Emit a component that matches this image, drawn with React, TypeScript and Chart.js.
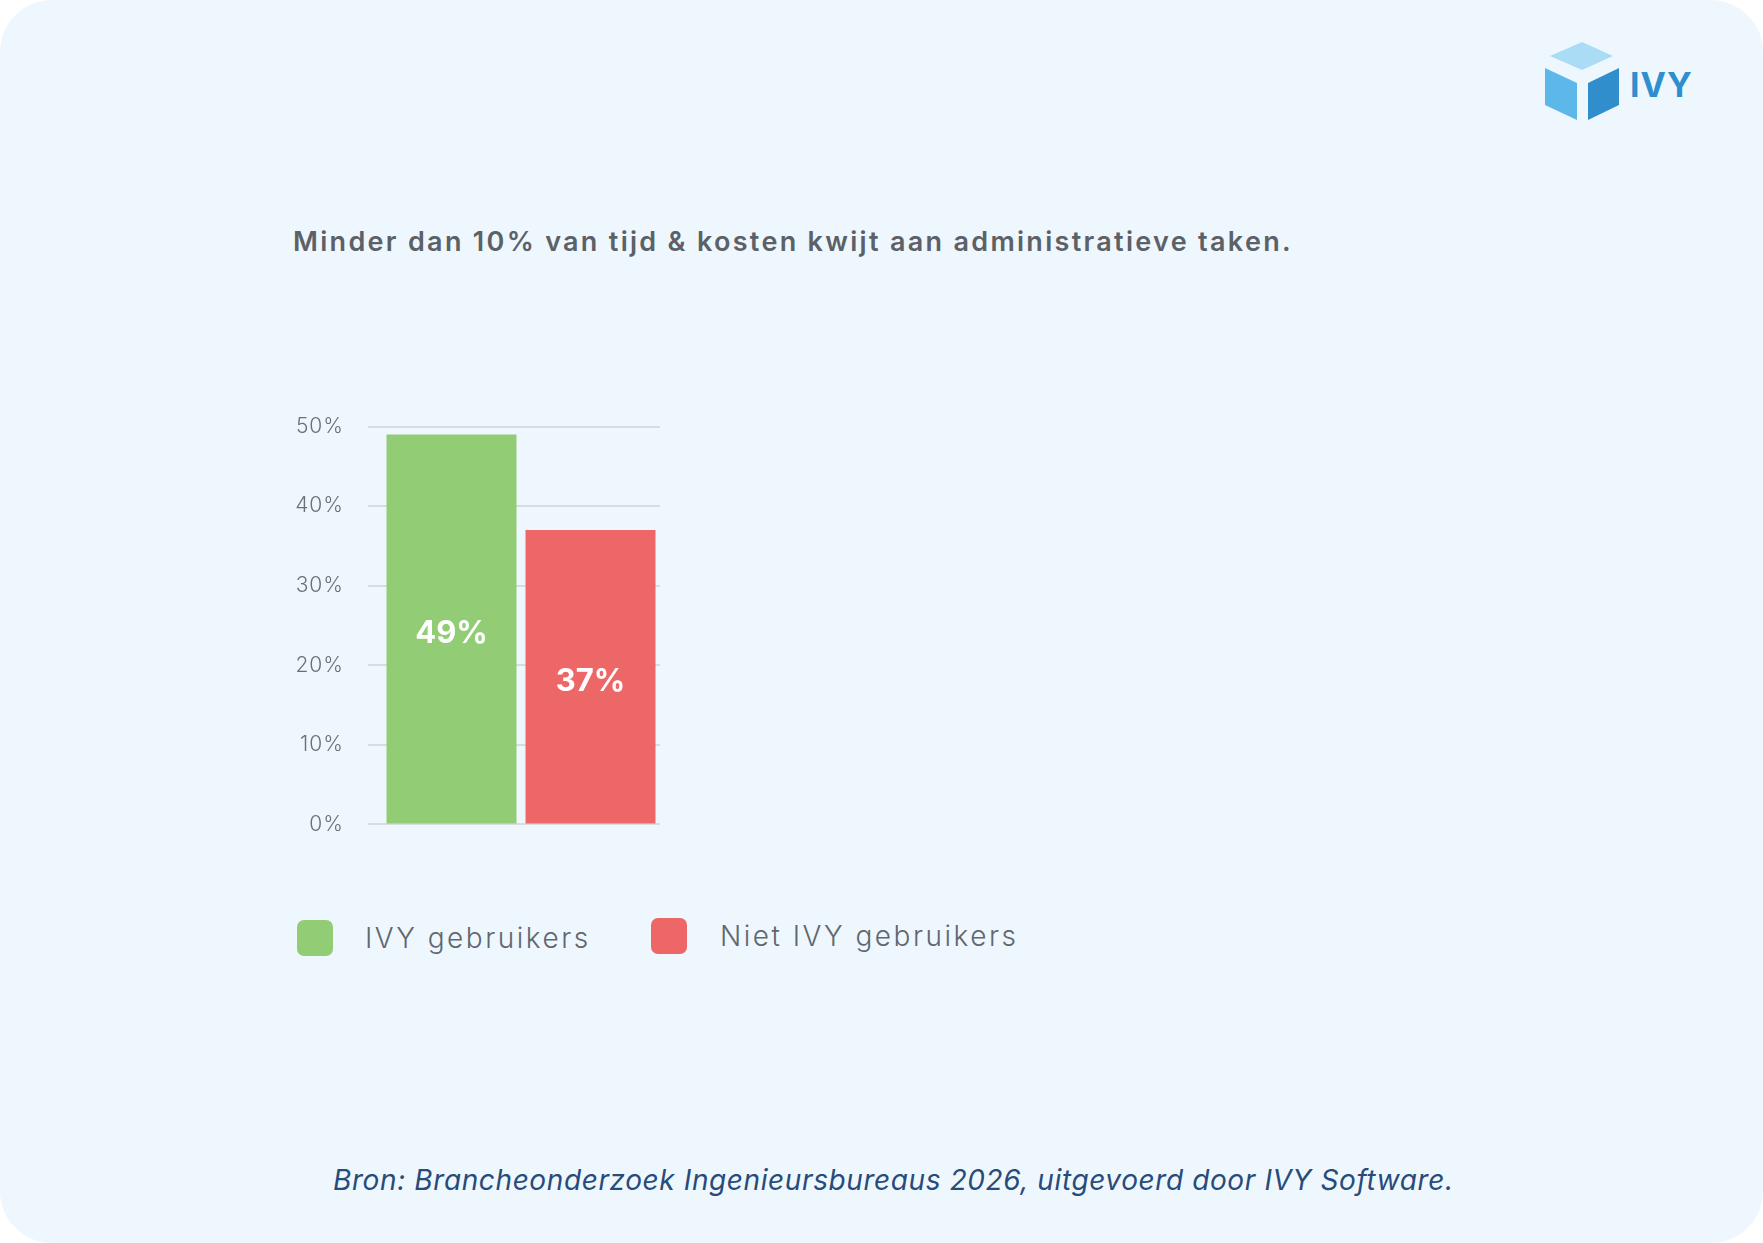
import { useEffect, useRef } from 'react';
import { Chart, registerables } from 'chart.js';

Chart.register(...registerables);

// data
const categories = [''];
const seriesLabels = ['IVY gebruikers', 'Niet IVY gebruikers'];
const seriesValues = [49, 37];
const seriesColors = ['#92cc74', '#ed6767'];
const yTicks = [0, 10, 20, 30, 40, 50];

const FONT = 'Inter, "Noto Sans", sans-serif';

const spacingPlugin = {
  id: 'spacing',
  beforeLayout(chart: Chart) { (chart.ctx as any).letterSpacing = '1px'; },
  beforeDraw(chart: Chart) { (chart.ctx as any).letterSpacing = '1px'; },
};

const valueLabels = {
  id: 'valueLabels',
  afterDatasetsDraw(chart: Chart) {
    const ctx = chart.ctx;
    ctx.save();
    (ctx as any).letterSpacing = '0px';
    ctx.fillStyle = '#ffffff';
    ctx.font = `700 31px ${FONT}`;
    ctx.textAlign = 'center';
    ctx.textBaseline = 'middle';
    chart.data.datasets.forEach((ds, i) => {
      const meta = chart.getDatasetMeta(i);
      meta.data.forEach((bar: any, j) => {
        const v = ds.data[j] as number;
        const { x, y, base } = bar.getProps(['x', 'y', 'base'], true);
        ctx.fillText(`${v}%`, x, (y + base) / 2 + 5);
      });
    });
    ctx.restore();
  },
};

export default function App() {
  const canvasRef = useRef<HTMLCanvasElement>(null);
  const chartRef = useRef<Chart | null>(null);

  useEffect(() => {
    document.body.style.margin = '0';
    document.body.style.background = '#ffffff';
    if (!canvasRef.current) return;
    if (chartRef.current) chartRef.current.destroy();

    chartRef.current = new Chart(canvasRef.current, {
      type: 'bar',
      data: {
        labels: categories,
        datasets: seriesLabels.map((label, i) => ({
          label,
          data: [seriesValues[i]],
          backgroundColor: seriesColors[i],
          borderWidth: 0,
          categoryPercentage: 1,
          barPercentage: 0.935,
        })),
      },
      options: {
        responsive: false,
        animation: false,
        layout: { padding: { left: 10, right: 20, top: 30, bottom: 20 } },
        plugins: {
          legend: { display: false },
          tooltip: { enabled: false },
        },
        scales: {
          x: { display: false },
          y: {
            min: 0,
            max: 50,
            afterBuildTicks: (scale: any) => {
              scale.ticks = yTicks.map(v => ({ value: v }));
            },
            afterFit: (scale: any) => { scale.width = 92; },
            border: { display: false },
            grid: { color: '#d9dcdf', lineWidth: 2, tickLength: 14, drawTicks: true },
            ticks: {
              padding: 24,
              color: '#6b7076',
              font: { family: FONT, size: 21, weight: 300 },
              callback: (v: any) => `${v}%`,
            },
          },
        },
      },
      plugins: [spacingPlugin, valueLabels],
    });

    return () => { chartRef.current?.destroy(); };
  }, []);

  return (
    <div style={{ position: 'relative', width: 1763, height: 1243, background: '#eff7fe', borderRadius: 52, overflow: 'hidden', fontFamily: FONT }}>
      <svg style={{ position: 'absolute', left: 1540, top: 36 }} width="84" height="90" viewBox="1540 36 84 90">
        <polygon points="1550,56 1582,42 1613,56 1582,70" fill="#aadcf5" />
        <polygon points="1545,68 1577,83 1577,120 1545,105" fill="#5cb8e8" />
        <polygon points="1588,83 1619,68 1619,105 1588,120" fill="#2f8ecb" />
      </svg>
      <div style={{ position: 'absolute', left: 1630, top: 64, fontSize: 34, fontWeight: 700, color: '#2f8fce', letterSpacing: 1 }}>IVY</div>

      <div style={{ position: 'absolute', left: 293, top: 225, fontSize: 27, fontWeight: 600, color: '#5b6167', letterSpacing: 2.3, whiteSpace: 'nowrap' }}>
        Minder dan 10% van tijd &amp; kosten kwijt aan administratieve taken.
      </div>

      <canvas ref={canvasRef} width={400} height={471} style={{ position: 'absolute', left: 280, top: 390, width: 400, height: 471 }} />

      {seriesLabels.map((label, i) => (
        <div key={label} style={{ position: 'absolute', left: i === 0 ? 297 : 651, top: i === 0 ? 920 : 918, display: 'flex', alignItems: 'center' }}>
          <span style={{ width: 36, height: 36, borderRadius: 7, background: seriesColors[i], display: 'inline-block' }} />
          <span style={{ marginLeft: i === 0 ? 32 : 33, fontSize: 28, fontWeight: 300, color: '#5f6770', letterSpacing: 2.5, whiteSpace: 'nowrap' }}>{label}</span>
        </div>
      ))}

      <div style={{ position: 'absolute', left: 333, top: 1163, fontSize: 28, fontStyle: 'italic', color: '#274b7b', letterSpacing: 0.6, whiteSpace: 'nowrap' }}>
        Bron: Brancheonderzoek Ingenieursbureaus 2026, uitgevoerd door IVY Software.
      </div>
    </div>
  );
}
